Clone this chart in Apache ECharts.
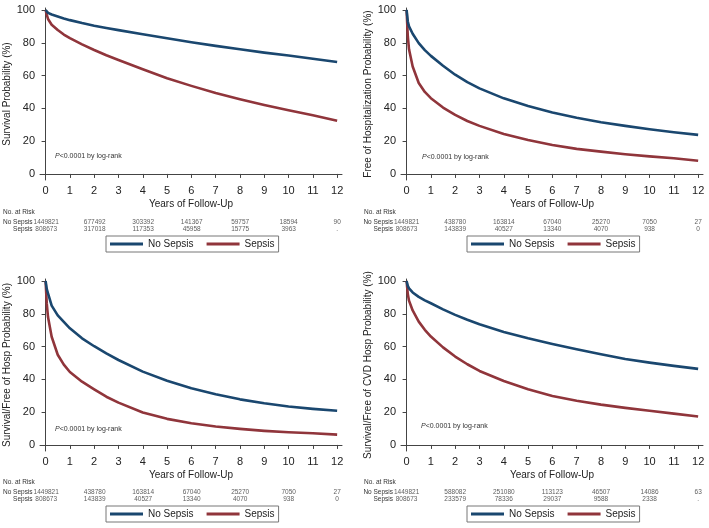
<!DOCTYPE html>
<html>
<head>
<meta charset="utf-8">
<script src="https://cdn.jsdelivr.net/npm/echarts@6/dist/echarts.min.js"></script>
<style>
  * { margin: 0; padding: 0; }
  body { background: #fff; }
  #main { width: 709px; height: 528px; }
</style>
</head>
<body>
<div id="main"></div>
<script>
// follow-up time points (years)
var years = [0, 0.05, 0.1, 0.25, 0.5, 0.75, 1, 1.5, 2, 2.5, 3, 4, 5, 6, 7, 8, 9, 10, 11, 12];
var xTicks = [0, 1, 2, 3, 4, 5, 6, 7, 8, 9, 10, 11, 12];
var yTicks = [0, 20, 40, 60, 80, 100];
var riskYears = [0, 2, 4, 6, 8, 10, 12];
var groups = ['No Sepsis', 'Sepsis'];

// A: survival
var survNoSepsis = [100, 99, 98.2, 97.2, 96, 94.8, 93.8, 92, 90.4, 89, 87.7, 85.2, 82.7, 80.3, 78.1, 76, 74, 72.2, 70.3, 68.3];
var survSepsis   = [100, 97, 94.5, 91, 87.8, 85, 82.8, 79, 75.6, 72.4, 69.5, 63.8, 58.4, 53.7, 49.3, 45.5, 42, 38.8, 35.8, 32.5];
// B: free of hospitalization
var hospNoSepsis = [100, 93, 90, 85.5, 79.8, 75.5, 72, 66, 60.5, 56, 52.2, 46.1, 41.5, 37.5, 34.3, 31.5, 29.3, 27.2, 25.4, 23.8];
var hospSepsis   = [100, 84, 76, 65.5, 55.5, 50, 46.2, 40.5, 36, 32.3, 29.3, 24.3, 20.7, 17.7, 15.3, 13.6, 12, 10.7, 9.6, 8];
// C: survival / free of hosp
var survHospNoSepsis = [100, 95, 92.5, 85, 79, 75, 71.1, 65, 60.2, 55.8, 51.8, 44.7, 39.2, 34.6, 30.9, 27.8, 25.4, 23.4, 22, 20.8];
var survHospSepsis   = [100, 86, 78, 66, 55, 49, 44.5, 38.6, 33.9, 29.4, 25.8, 19.8, 15.9, 13.2, 11.2, 9.8, 8.6, 7.7, 7.1, 6.3];
// D: survival / free of CVD hosp
var cvdNoSepsis = [100, 97, 95.5, 93, 90.3, 88.2, 86.4, 82.7, 79.3, 76.3, 73.6, 68.9, 65, 61.6, 58.3, 55.3, 52.4, 50.2, 48.2, 46.4];
var cvdSepsis   = [100, 92, 88, 82, 75.2, 70.2, 66.1, 59.5, 53.9, 49.2, 45.1, 39, 33.9, 29.9, 27, 24.6, 22.6, 20.8, 19.1, 17.3];

// numbers at risk
var riskNoSepsisA = ['1449821', '677492', '303392', '141367', '59757', '18594', '90'];
var riskSepsisA   = ['808673', '317018', '117353', '45958', '15775', '3963', '.'];
var riskNoSepsisB = ['1449821', '438780', '163814', '67040', '25270', '7050', '27'];
var riskSepsisB   = ['808673', '143839', '40527', '13340', '4070', '938', '0'];
var riskNoSepsisC = ['1449821', '438780', '163814', '67040', '25270', '7050', '27'];
var riskSepsisC   = ['808673', '143839', '40527', '13340', '4070', '938', '0'];
var riskNoSepsisD = ['1449821', '588082', '251080', '113123', '46507', '14086', '63'];
var riskSepsisD   = ['808673', '233579', '78336', '29037', '9588', '2338', '.'];

var yTitles = ['Survival Probability (%)', 'Free of Hospitalization Probability (%)',
               'Survival/Free of Hosp Probability (%)', 'Survival/Free of CVD Hosp Probability (%)'];

var curves = [[survNoSepsis, survSepsis], [hospNoSepsis, hospSepsis],
              [survHospNoSepsis, survHospSepsis], [cvdNoSepsis, cvdSepsis]];
var risks = [[riskNoSepsisA, riskSepsisA], [riskNoSepsisB, riskSepsisB],
             [riskNoSepsisC, riskSepsisC], [riskNoSepsisD, riskSepsisD]];

var colors = ['#1a476f', '#90353b'];
var font = 'Arial, "Liberation Sans", sans-serif';

// panel placement
var layout = [
  { left: 40,  top: 8,   riskTop: 219, legendLeft: 106, legendTop: 236, pX: 55,  pY: 158 },
  { left: 401, top: 8,   riskTop: 219, legendLeft: 467, legendTop: 236, pX: 422, pY: 159 },
  { left: 40,  top: 279, riskTop: 489, legendLeft: 106, legendTop: 506, pX: 55,  pY: 431 },
  { left: 401, top: 279, riskTop: 489, legendLeft: 467, legendTop: 506, pX: 421, pY: 428 }
];

var grid = [], xAxis = [], yAxis = [], series = [], legend = [], graphic = [];

layout.forEach(function (L, k) {
  grid.push({ left: L.left, top: L.top, width: 302, height: 172 });
  xAxis.push({
    type: 'value', gridIndex: k, min: -0.23, max: 12.2,
    name: 'Years of Follow-Up', nameLocation: 'middle', nameGap: 19,
    nameTextStyle: { fontFamily: font, fontSize: 10, color: '#222' },
    axisLine: { lineStyle: { color: '#444', width: 1 } },
    axisTick: { customValues: xTicks, length: 4, lineStyle: { color: '#444' } },
    axisLabel: { customValues: xTicks, fontFamily: font, fontSize: 11, color: '#222', margin: 5 },
    splitLine: { show: false }
  });
  yAxis.push({
    type: 'value', gridIndex: k, min: -3.7, max: 101.2,
    name: yTitles[k], nameLocation: 'middle', nameGap: 24,
    nameTextStyle: { fontFamily: font, fontSize: 10, color: '#222' },
    axisLine: { show: true, lineStyle: { color: '#444', width: 1 } },
    axisTick: { show: true, customValues: yTicks, length: 4, lineStyle: { color: '#444' } },
    axisLabel: { customValues: yTicks, fontFamily: font, fontSize: 11, color: '#222', margin: 5 },
    splitLine: { show: false }
  });
  curves[k].forEach(function (arr, g) {
    series.push({
      name: groups[g], type: 'line', xAxisIndex: k, yAxisIndex: k,
      data: years.map(function (t, i) { return [t, arr[i]]; }),
      showSymbol: false, symbol: 'none', smooth: false,
      lineStyle: { color: colors[g], width: 2.6, join: 'round' }, itemStyle: { color: colors[g] },
      silent: true, z: 3 - g
    });
  });
  legend.push({
    left: L.legendLeft, top: L.legendTop, data: groups,
    orient: 'horizontal', icon: 'rect', itemWidth: 33, itemHeight: 3, itemGap: 13,
    borderColor: '#777', borderWidth: 1, padding: [3, 4],
    textStyle: { fontFamily: font, fontSize: 10, color: '#222' },
    selectedMode: false
  });
  graphic.push({
    type: 'text', left: L.pX, top: L.pY - 5,
    style: {
      text: '{i|P}<0.0001 by log-rank',
      font: '7px ' + font, fill: '#333',
      rich: { i: { fontStyle: 'italic', fontSize: 7, fontFamily: font, fill: '#333' } }
    }
  });
  graphic.push({
    type: 'text', left: (k % 2 ? 364 : 3), top: L.riskTop - 10,
    style: { text: 'No. at Risk', font: '6.5px ' + font, fill: '#333' }
  });
});

// numbers-at-risk tables, on their own grids sharing the x scale
layout.forEach(function (L, k) {
  var gi = 4 + k;
  grid.push({ left: L.left, top: L.riskTop, width: 302, height: 13 });
  xAxis.push({ type: 'value', gridIndex: gi, min: -0.23, max: 12.2, show: false });
  yAxis.push({
    type: 'category', gridIndex: gi, data: groups, inverse: true,
    axisLine: { show: false }, axisTick: { show: false },
    axisLabel: { interval: 0, fontFamily: font, fontSize: 6.5, color: '#333', margin: 8 }
  });
  risks[k].forEach(function (arr, g) {
    series.push({
      type: 'scatter', xAxisIndex: gi, yAxisIndex: gi, silent: true,
      symbolSize: 1, itemStyle: { color: 'rgba(0,0,0,0)' },
      data: riskYears.map(function (t, i) { return { value: [t, g], name: arr[i] }; }),
      label: { show: true, position: 'inside', formatter: '{b}', fontFamily: font, fontSize: 6.5, color: '#333' },
      labelLayout: { hideOverlap: false }
    });
  });
});

var chart = echarts.init(document.getElementById('main'), null, { renderer: 'canvas' });
chart.setOption({
  animation: false,
  backgroundColor: '#fff',
  grid: grid, xAxis: xAxis, yAxis: yAxis,
  legend: legend, graphic: graphic, series: series
});
</script>
</body>
</html>
